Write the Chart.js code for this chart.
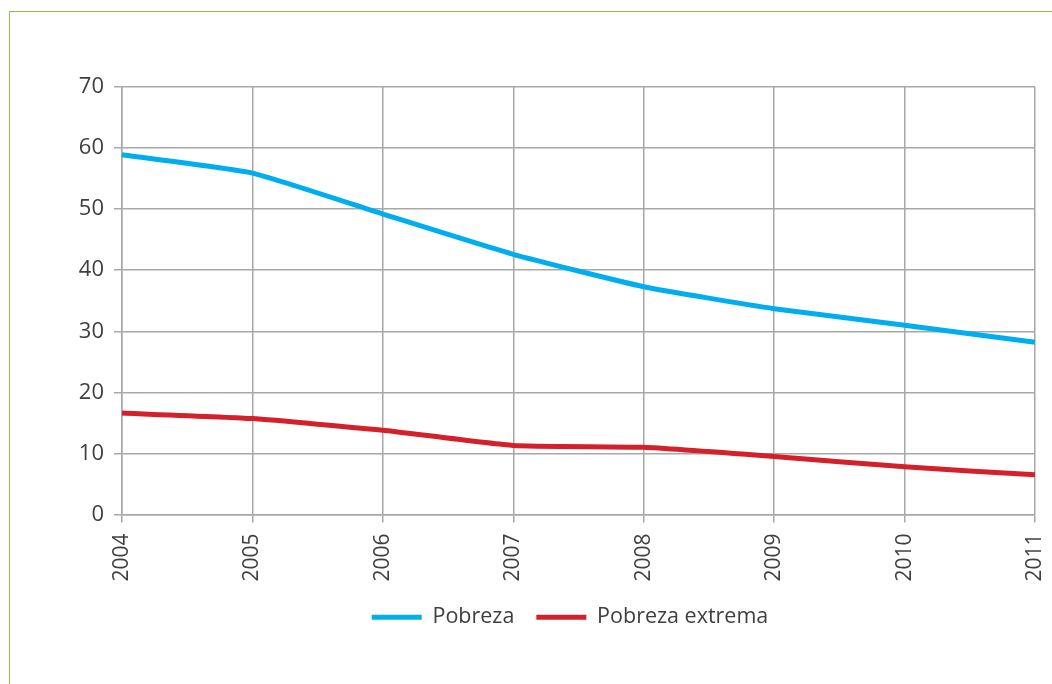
<!DOCTYPE html>
<html>
<head>
<meta charset="utf-8">
<script src="https://cdn.jsdelivr.net/npm/chart.js@4"></script>
<style>
  html, body { margin: 0; padding: 0; background: #fff; }
  #wrap { position: relative; width: 1052px; height: 684px; overflow: hidden; }
  #frame { position: absolute; left: 9px; top: 11px; right: -2px; bottom: -2px;
           border-top: 1px solid #8cc63f; border-left: 1px solid #8cc63f; }
  canvas { position: absolute; left: 0; top: 0; }
</style>
</head>
<body>
<div id="wrap">
  <div id="frame"></div>
  <canvas id="chart" width="1052" height="684"></canvas>
</div>
<script>
let years = ['2004', '2005', '2006', '2007', '2008', '2009', '2010', '2011'];
let pobreza = [58.9, 55.9, 49.2, 42.6, 37.3, 33.7, 31.0, 28.2];
let pobrezaExtrema = [16.6, 15.7, 13.8, 11.3, 11.0, 9.5, 7.8, 6.5];
let yTicks = [0, 10, 20, 30, 40, 50, 60, 70];

let textColor = '#3f3f3f';
let gridColor = '#a8a8a8';
let fontFamily = "'Open Sans', 'Noto Sans', sans-serif";

// centre the legend under the plot area instead of the whole canvas
let legendShift = {
    id: 'legendShift',
    afterLayout(c) {
        let lg = c.legend;
        if (!lg) return;
        lg.left = c.chartArea.left - 17;
        lg.right = c.chartArea.right;
        lg.width = lg.right - lg.left;
    }
};

let ctx = document.getElementById('chart').getContext('2d');
let chart = new Chart(ctx, {
    type: 'line',
    data: {
        labels: years,
        datasets: [{
            label: 'Pobreza',
            data: pobreza,
            borderColor: '#00aeef',
            backgroundColor: '#00aeef',
            borderWidth: 5,
            pointRadius: 0,
            tension: 0.15,
            fill: false
        }, {
            label: 'Pobreza extrema',
            data: pobrezaExtrema,
            borderColor: '#d4202a',
            backgroundColor: '#d4202a',
            borderWidth: 5,
            pointRadius: 0,
            tension: 0.15,
            fill: false
        }]
    },
    plugins: [legendShift],
    options: {
        responsive: false,
        animation: false,
        layout: { padding: { left: 0, right: 17, top: 87, bottom: 46 } },
        plugins: {
            tooltip: { enabled: false },
            legend: {
                position: 'bottom',
                labels: {
                    color: textColor,
                    font: { family: fontFamily, size: 21.5 },
                    boxWidth: 50,
                    boxHeight: 5,
                    padding: 22,
                    generateLabels: function (c) {
                        return Chart.defaults.plugins.legend.labels.generateLabels(c)
                            .map(l => Object.assign(l, { lineWidth: 0 }));
                    }
                }
            }
        },
        scales: {
            x: {
                offset: false,
                grid: { color: gridColor, lineWidth: 1.5, tickLength: 8 },
                border: { color: gridColor, width: 1.5 },
                ticks: {
                    color: textColor,
                    font: { family: fontFamily, size: 21 },
                    minRotation: 90,
                    maxRotation: 90,
                    padding: 11
                },
                afterFit: function (scale) {
                    scale.height = 70;
                    scale.paddingLeft = 0;
                    scale.paddingRight = 0;
                }
            },
            y: {
                min: 0,
                max: 70,
                grid: { color: gridColor, lineWidth: 1.5, tickLength: 8 },
                border: { color: gridColor, width: 1.5 },
                afterBuildTicks: function (scale) {
                    scale.ticks = yTicks.map(v => ({ value: v }));
                },
                ticks: {
                    color: textColor,
                    font: { family: fontFamily, size: 22 },
                    padding: 10
                },
                afterFit: function (scale) { scale.width = 122; }
            }
        }
    }
});
</script>
</body>
</html>
